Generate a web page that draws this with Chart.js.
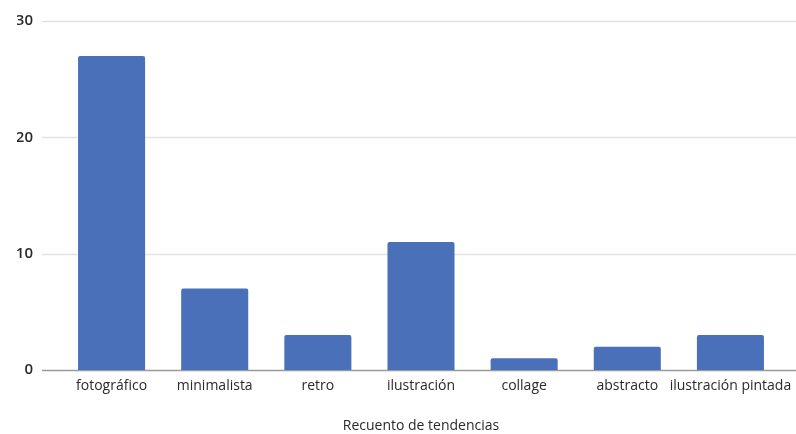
<!DOCTYPE html>
<html>
<head>
<meta charset="utf-8">
<script src="https://cdn.jsdelivr.net/npm/chart.js@4"></script>
<style>
  html, body { margin: 0; padding: 0; background: #fff; }
  #wrap { width: 796px; height: 434px; }
</style>
</head>
<body>
<div id="wrap"><canvas id="c"></canvas></div>
<script>
const categories = ['fotográfico', 'minimalista', 'retro', 'ilustración', 'collage', 'abstracto', 'ilustración pintada'];
const counts     = [27, 7, 3, 11, 1, 2, 3];
const yTicks     = [0, 10, 20, 30];

const barCol  = '#4a70b9';
const gridCol = '#e2e2e2';
const textCol = '#2a2a2a';

// horizontal guides run past the plot area on both sides
const wideGrid = {
  id: 'wideGrid',
  beforeDatasetsDraw(chart) {
    const { ctx, scales: { y } } = chart;
    ctx.save();
    yTicks.forEach(v => {
      const py = Math.round(y.getPixelForValue(v)) + 0.5;
      ctx.strokeStyle = v === 0 ? '#9a9a9a' : gridCol;
      ctx.lineWidth = 1.5;
      ctx.beginPath();
      ctx.moveTo(42, py);
      ctx.lineTo(796, py);
      ctx.stroke();
    });
    ctx.restore();
  }
};

new Chart(document.getElementById('c').getContext('2d'), {
  type: 'bar',
  data: {
    labels: categories,
    datasets: [{
      label: 'Recuento',
      data: counts,
      backgroundColor: barCol,
      borderRadius: { topLeft: 2, topRight: 2 },
      borderSkipped: 'bottom',
      categoryPercentage: 1,
      barPercentage: 0.65
    }]
  },
  options: {
    responsive: true,
    maintainAspectRatio: false,
    animation: false,
    layout: { padding: { left: 17, right: 14, top: 21, bottom: 0 } },
    plugins: {
      legend: { display: false },
      tooltip: { enabled: false }
    },
    scales: {
      x: {
        // long last label may overhang the plot edge
        afterFit: s => { s.height = 64; s.paddingLeft = 0; s.paddingRight = 0; },
        grid: { display: false, drawTicks: false },
        border: { display: false },
        ticks: { color: textCol, font: { family: 'Open Sans', size: 14 }, padding: 8, maxRotation: 0, autoSkip: false },
        title: { display: true, text: 'Recuento de tendencias', color: textCol, font: { family: 'Open Sans', size: 14 }, padding: { top: 16, bottom: 0 } }
      },
      y: {
        min: 0, max: 30,
        afterBuildTicks: s => { s.ticks = yTicks.map(v => ({ value: v })); },
        afterFit: s => { s.width = 43; },
        grid: { display: false, drawTicks: true, tickLength: 27 },
        border: { display: false },
        ticks: { color: textCol, font: { family: 'Open Sans', size: 15, weight: '600' }, padding: 0 }
      }
    }
  },
  plugins: [wideGrid]
});
</script>
</body>
</html>
